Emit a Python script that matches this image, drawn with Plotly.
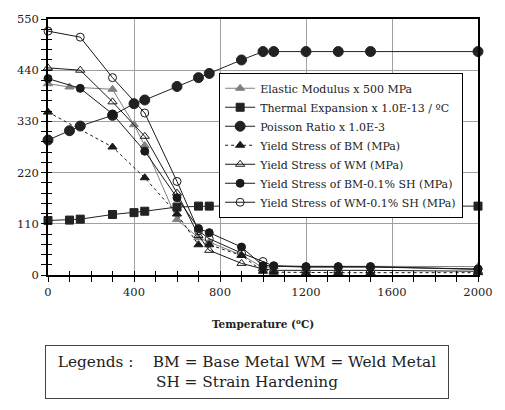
import plotly.graph_objects as go

# ---------------- data ----------------
x_full = [0, 100, 150, 300, 400, 450, 600, 700, 750, 900, 1000, 1050, 1200, 1350, 1500, 2000]
poisson = [290, 310, 320, 343, 368, 376, 405, 424, 433, 462, 480, 480, 480, 480, 480, 480]
thermal = [117, 118, 120, 130, 134, 137, 146, 148, 148, 148, 148, 148, 148, 148, 148, 148]

x_elastic = [0, 100, 300, 400, 450, 600, 700, 750, 900, 1000, 1050, 1200, 1350, 1500, 2000]
elastic = [411, 404, 399, 323, 278, 119, 80, 71, 43, 16, 18, 19, 19, 19, 18]

x_bm = [0, 300, 450, 600, 700, 750, 900, 1000, 1050, 1200, 1350, 1500, 2000]
ys_bm = [350, 275, 209, 131, 65, 65, 42, 8, 6, 5, 5, 5, 5]

x_wm = [0, 150, 300, 450, 600, 700, 750, 900, 1000, 1050, 1200, 1350, 1500, 2000]
ys_wm = [445, 440, 372, 298, 176, 85, 53, 25, 13, 10, 10, 10, 10, 8]

x_bmsh = [0, 150, 300, 450, 600, 700, 750, 900, 1000, 1050, 1200, 1350, 1500, 2000]
ys_bmsh = [422, 401, 346, 266, 166, 100, 91, 60, 20, 20, 18, 18, 18, 12]

x_wmsh = [0, 150, 300, 450, 600, 700, 750, 900, 1000, 1050, 1200, 1350, 1500, 2000]
ys_wmsh = [524, 511, 424, 348, 201, 95, 78, 47, 29, 19, 17, 17, 17, 13]

names = [
    "Elastic Modulus x 500 MPa",
    "Thermal Expansion x 1.0E-13 / \u00baC",
    "Poisson Ratio x 1.0E-3",
    "Yield Stress of BM (MPa)",
    "Yield Stress of WM (MPa)",
    "Yield Stress of BM-0.1% SH (MPa)",
    "Yield Stress of WM-0.1% SH (MPa)",
]

x_ticks = [0, 400, 800, 1200, 1600, 2000]
y_ticks = [0, 110, 220, 330, 440, 550]

# ---------------- figure ----------------
BLK = "#1a1a1a"
GRY = "#808080"
FONT = "DejaVu Serif"

fig = go.Figure()

def add(x, y, name, color, symbol, size, dash="solid", mcolor=None, lw=1):
    fig.add_trace(go.Scatter(
        x=x, y=y, name=name, mode="lines+markers",
        line=dict(color=color, width=lw, dash=dash),
        marker=dict(symbol=symbol, size=size, color=mcolor or color,
                    line=dict(color=color, width=1)),
        cliponaxis=False,
    ))

add(x_elastic, elastic, names[0], GRY, "triangle-up", 8)
add(x_full, thermal, names[1], "#222", "square", 8)
add(x_full, poisson, names[2], "#222", "circle", 10)
add(x_bm, ys_bm, names[3], BLK, "triangle-up", 8, dash="dot")
add(x_wm, ys_wm, names[4], BLK, "triangle-up-open", 8)
add(x_bmsh, ys_bmsh, names[5], BLK, "circle", 8)
add(x_wmsh, ys_wmsh, names[6], BLK, "circle-open", 8)

fig.add_trace(go.Scatter(x=[0], y=[0], xaxis="x2", yaxis="y2", mode="markers",
                         marker=dict(opacity=0), showlegend=False, hoverinfo="skip"))

fig.update_layout(
    width=505, height=410,
    margin=dict(l=48, r=20, t=14, b=135),
    paper_bgcolor="white", plot_bgcolor="white",
    font=dict(family=FONT, color="#222", size=12),
    xaxis=dict(range=[0, 2000], tickvals=x_ticks, showgrid=True, gridcolor="#a0a0a0",
               gridwidth=1, showline=True, linecolor="black", linewidth=1.5, mirror=True,
               ticks="outside", ticklen=5, tickcolor="black",
               minor=dict(dtick=100, ticks="outside", ticklen=5, tickcolor="black", showgrid=False),
               zeroline=False, tickfont=dict(family=FONT, size=11.5)),
    yaxis=dict(range=[0, 550], tickvals=y_ticks, showgrid=True, gridcolor="#a0a0a0",
               gridwidth=1, showline=True, linecolor="black", linewidth=1.5, mirror=True,
               ticks="outside", ticklen=5, tickcolor="black",
               minor=dict(dtick=22, ticks="outside", ticklen=5, tickcolor="black", showgrid=False),
               zeroline=False, tickfont=dict(family=FONT, size=11.5)),
    xaxis2=dict(range=[0, 2000], overlaying="x", anchor="y2", side="bottom",
                showgrid=False, showticklabels=False, ticks="inside", ticklen=4,
                tickvals=x_ticks, tickcolor="black", zeroline=False, showline=False,
                minor=dict(dtick=100, ticks="inside", ticklen=4, tickcolor="black", showgrid=False)),
    yaxis2=dict(range=[0, 550], overlaying="y", anchor="x2", side="left",
                showgrid=False, showticklabels=False, ticks="inside", ticklen=4,
                tickvals=y_ticks, tickcolor="black", zeroline=False, showline=False,
                minor=dict(dtick=22, ticks="inside", ticklen=4, tickcolor="black", showgrid=False)),
    legend=dict(x=0.398, y=0.79, xanchor="left", yanchor="top",
                bgcolor="white", bordercolor="black", borderwidth=1,
                font=dict(family=FONT, size=11, color="#222"),
                tracegroupgap=0, itemwidth=30),
    showlegend=True,
)

fig.add_annotation(
    x=0.5, y=-0.19, xref="paper", yref="paper", showarrow=False,
    xanchor="center", yanchor="middle",
    text="<b>Temperature (<sup>o</sup>C)</b>", font=dict(family=FONT, size=10.5, color="#222"),
)
fig.add_annotation(
    x=0.463, y=-0.377, xref="paper", yref="paper", showarrow=False,
    xanchor="center", yanchor="middle",
    text="Legends :    BM = Base Metal WM = Weld Metal<br>SH = Strain Hardening",
    font=dict(family=FONT, size=15.3, color="#222"), align="center",
    bordercolor="#444", borderwidth=1, width=400, height=50, bgcolor="white",
)

fig.write_html("out.html")
